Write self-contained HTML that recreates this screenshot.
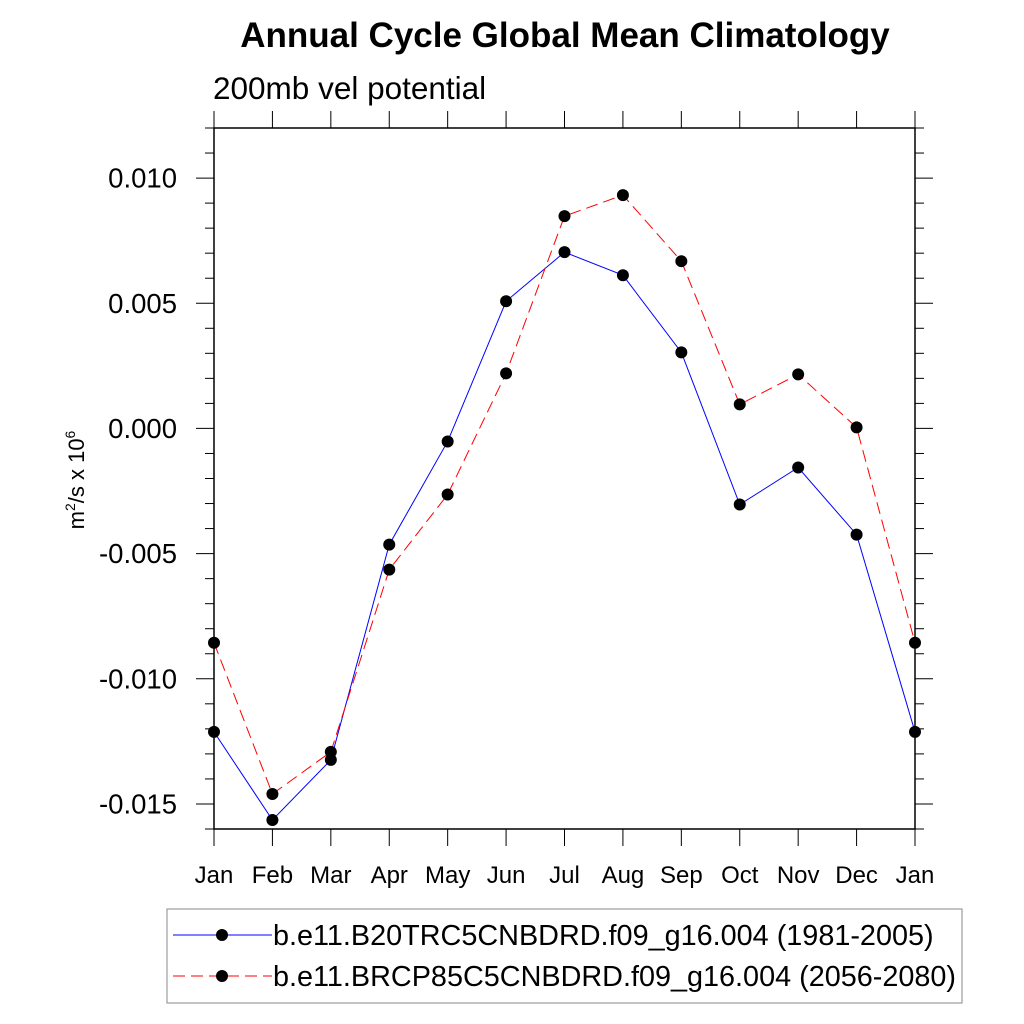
<!DOCTYPE html>
<html><head><meta charset="utf-8"><style>
body{margin:0;background:#fff;}
svg{display:block;font-family:"Liberation Sans",sans-serif;}
</style></head><body>
<svg id="c" width="1024" height="1024" xmlns="http://www.w3.org/2000/svg">
<text x="565" y="47" text-anchor="middle" font-size="35" font-weight="bold">Annual Cycle Global Mean Climatology</text>
<text x="213" y="99" font-size="31.5">200mb vel potential</text>
<text transform="translate(84,480) rotate(-90)" text-anchor="middle" font-size="22">m<tspan font-size="14" dy="-9">2</tspan><tspan dy="9">/s x 10</tspan><tspan font-size="14" dy="-9">6</tspan></text>
<g id="axes"></g>
<g id="series"></g>
<rect x="167" y="909" width="795" height="94" fill="none" stroke="#888" stroke-width="1"/>
<g>
<line x1="173" y1="935" x2="272" y2="935" stroke="#0000ff" stroke-width="1"/>
<circle cx="222" cy="935" r="6" fill="#000"/>
<text x="273" y="945" font-size="28.8">b.e11.B20TRC5CNBDRD.f09_g16.004 (1981-2005)</text>
</g>
<g>
<line x1="173" y1="976" x2="272" y2="976" stroke="#ff0000" stroke-width="1" stroke-dasharray="12,6"/>
<circle cx="222" cy="976" r="6" fill="#000"/>
<text x="273" y="986" font-size="28.8">b.e11.BRCP85C5CNBDRD.f09_g16.004 (2056-2080)</text>
</g>
</svg>
<script>
const months=["Jan","Feb","Mar","Apr","May","Jun","Jul","Aug","Sep","Oct","Nov","Dec","Jan"];
const blueValues=[-0.01212,-0.01564,-0.01324,-0.00464,-0.00052,0.00508,0.00704,0.00612,0.00304,-0.00304,-0.00156,-0.00424,-0.01212];
const redValues=[-0.00856,-0.0146,-0.01292,-0.00564,-0.00264,0.0022,0.00848,0.00932,0.00668,0.00096,0.00216,0.00004,-0.00856];
const yTicks=[0.010,0.005,0.000,-0.005,-0.010,-0.015];
const yTickLabels=["0.010","0.005","0.000","-0.005","-0.010","-0.015"];
const X0=214,X1=915,Y0=128,Y1=829,YMAX=0.012,YMIN=-0.016;
const xs=i=>X0+(X1-X0)*i/(months.length-1);
const ys=v=>Y0+(YMAX-v)/(YMAX-YMIN)*(Y1-Y0);
const NS="http://www.w3.org/2000/svg";
function mk(t,a,p){const e=document.createElementNS(NS,t);for(const k in a)e.setAttribute(k,a[k]);p.appendChild(e);return e;}
const ax=document.getElementById('axes');
const frame=mk('rect',{x:X0,y:Y0,width:X1-X0,height:Y1-Y0,fill:'none',stroke:'#000','stroke-width':1.5},ax);


for(let k=-16;k<=12;k++){
 const v=k/1000,y=ys(v),major=(k%5===0),L=major?18:9;
 mk('line',{x1:X0-L,y1:y,x2:X0,y2:y,stroke:'#000','stroke-width':1},ax);
 mk('line',{x1:X1,y1:y,x2:X1+L,y2:y,stroke:'#000','stroke-width':1},ax);
}
yTicks.forEach((v,i)=>{
 const t=mk('text',{x:X0-37,y:ys(v)+9.5,'text-anchor':'end','font-size':27.5},ax);
 t.textContent=yTickLabels[i];
 
 
});
months.forEach((m,i)=>{
 const x=xs(i);
 mk('line',{x1:x,y1:Y1,x2:x,y2:Y1+17,stroke:'#000','stroke-width':1},ax);
 mk('line',{x1:x,y1:Y0-17,x2:x,y2:Y0,stroke:'#000','stroke-width':1},ax);
 const t=mk('text',{x:x,y:883,'text-anchor':'middle','font-size':24},ax);
 t.textContent=m;
 
 
});
const sg=document.getElementById('series');
function series(vals,color,dash,name){
 const g=mk('g',{},sg);
 
 
 const pts=vals.map((v,i)=>xs(i)+','+ys(v)).join(' ');
 const a={points:pts,fill:'none',stroke:color,'stroke-width':1};
 if(dash)a['stroke-dasharray']=dash;
 mk('polyline',a,g);
 vals.forEach((v,i)=>{
  const c=mk('circle',{cx:xs(i),cy:ys(v),r:6,fill:'#000'},g);
  
  
 });
}
series(blueValues,'#0000ff',null,'series-1981-2005');
series(redValues,'#ff0000','12,6','series-2056-2080');
</script>
</body></html>
